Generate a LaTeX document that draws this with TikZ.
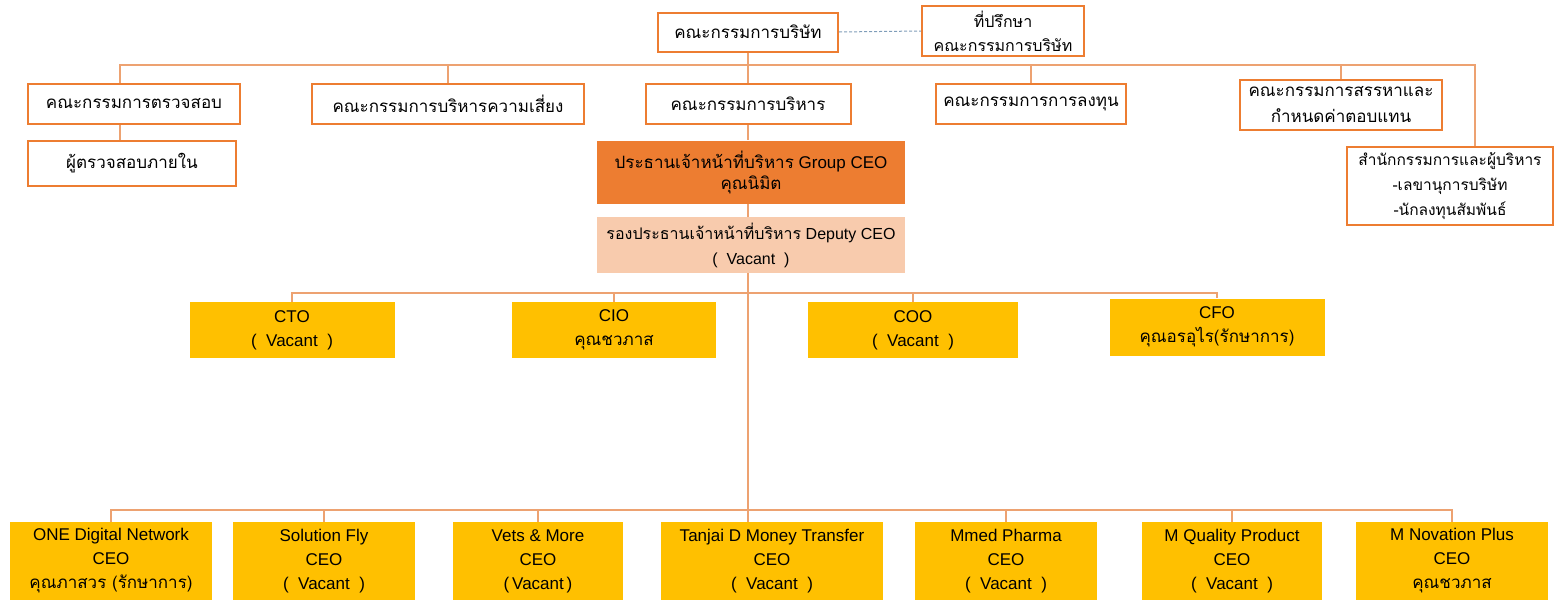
\documentclass[tikz,border=0pt]{standalone}
\usepackage{fontspec}
\setmainfont{Liberation Sans}
\newfontfamily\thaifont[Script=Thai]{Loma}
\definecolor{boxorange}{HTML}{ED7D31}
\definecolor{linktan}{HTML}{EDA271}
\definecolor{ceofill}{HTML}{ED7D31}
\definecolor{deputyfill}{HTML}{F8CBAD}
\definecolor{unitfill}{HTML}{FFC000}
\definecolor{dashblue}{HTML}{7F9DB9}
\tikzstyle{board} = [draw=boxorange, fill=white, line width=2pt, rectangle, align=center, inner sep=0pt, font=\thaifont\fontsize{17}{26}\selectfont]
\tikzstyle{ceobox} = [fill=ceofill, rectangle, align=center, inner sep=0pt, font=\fontsize{17}{21}\selectfont]
\tikzstyle{deputybox} = [fill=deputyfill, rectangle, align=center, inner sep=0pt, font=\fontsize{16}{25}\selectfont]
\tikzstyle{unit} = [fill=unitfill, rectangle, align=center, inner sep=0pt, font=\fontsize{17}{24}\selectfont]
\tikzstyle{link} = [draw=linktan, line width=1.2pt]
\newcommand{\thn}[1]{{\thaifont #1}}

\begin{document}
\begin{tikzpicture}[x=1pt, y=-1pt]
\useasboundingbox (0,0) rectangle (1555,600);
% board level
\node[board, minimum width=180pt, minimum height=39pt] (board) at (748,32) {คณะกรรมการบริษัท};
\node[board, minimum width=162pt, minimum height=50pt, font=\thaifont\fontsize{16}{24}\selectfont] (advisor) at (1003,31) {ที่ปรึกษา\\คณะกรรมการบริษัท};
% committees
\node[board, minimum width=212pt, minimum height=40pt] (audit) at (134,104) {คณะกรรมการตรวจสอบ};
\node[board, minimum width=272pt, minimum height=40pt] (risk) at (448,104) {คณะกรรมการบริหารความเสี่ยง};
\node[board, minimum width=205pt, minimum height=40pt] (exec) at (748,104) {คณะกรรมการบริหาร};
\node[board, minimum width=190pt, minimum height=40pt] (invest) at (1031,104) {คณะกรรมการการลงทุน};
\node[board, minimum width=202pt, minimum height=50pt] (nomin) at (1341,105) {คณะกรรมการสรรหาและ\\กำหนดค่าตอบแทน};
\node[board, minimum width=206pt, minimum height=78pt, font=\thaifont\fontsize{15.5}{25}\selectfont] (office) at (1450,186) {สำนักกรรมการและผู้บริหาร\\-เลขานุการบริษัท\\-นักลงทุนสัมพันธ์};
\node[board, minimum width=208pt, minimum height=45pt] (inaudit) at (132,163) {ผู้ตรวจสอบภายใน};
% executives
\node[ceobox, minimum width=308pt, minimum height=63pt] (ceo) at (751,172) {\thn{ประธานเจ้าหน้าที่บริหาร} Group CEO\\\thn{คุณนิมิต}};
\node[deputybox, minimum width=308pt, minimum height=56pt] (deputy) at (751,245) {\thn{รองประธานเจ้าหน้าที่บริหาร} Deputy CEO\\(\ \ Vacant\ \ )};
\node[unit, minimum width=205pt, minimum height=56pt] (cto) at (292,330) {CTO\\(\ \ Vacant\ \ )};
\node[unit, minimum width=204pt, minimum height=56pt] (cio) at (614,330) {CIO\\\thn{คุณชวภาส}};
\node[unit, minimum width=210pt, minimum height=56pt] (coo) at (913,330) {COO\\(\ \ Vacant\ \ )};
\node[unit, minimum width=215pt, minimum height=57pt] (cfo) at (1217,327) {CFO\\\thn{คุณอรอุไร(รักษาการ)}};
% subsidiaries
\node[unit, minimum width=202pt, minimum height=78pt] (one) at (111,561) {ONE Digital Network\\CEO\\\thn{คุณภาสวร (รักษาการ)}};
\node[unit, minimum width=182pt, minimum height=78pt] (sol) at (324,561) {Solution Fly\\CEO\\(\ \ Vacant\ \ )};
\node[unit, minimum width=170pt, minimum height=78pt] (vets) at (538,561) {Vets \& More\\CEO\\(\,Vacant\,)};
\node[unit, minimum width=222pt, minimum height=78pt] (tanjai) at (772,561) {Tanjai D Money Transfer\\CEO\\(\ \ Vacant\ \ )};
\node[unit, minimum width=182pt, minimum height=78pt] (mmed) at (1006,561) {Mmed Pharma\\CEO\\(\ \ Vacant\ \ )};
\node[unit, minimum width=180pt, minimum height=78pt] (mq) at (1232,561) {M Quality Product\\CEO\\(\ \ Vacant\ \ )};
\node[unit, minimum width=192pt, minimum height=78pt] (mnov) at (1452,561) {M Novation Plus\\CEO\\\thn{คุณชวภาส}};
% connectors
\coordinate (topbar) at (748,65);
\coordinate (cbar) at (748,293);
\coordinate (ubar) at (748,510);
\draw[dashblue, line width=1pt, dash pattern=on 3pt off 2pt] (board.east) -- (advisor.west);
\draw[link] (board.south) -- (exec.north);
\draw[link] ([xshift=-14pt]audit.north) |- (topbar) -| ([xshift=25pt]office.north);
\foreach \n in {risk,invest,nomin}
  \draw[link] (\n.north) -- (\n.north |- topbar);
\draw[link] ([xshift=-14pt]audit.south) -- ([xshift=-14pt]audit.south |- inaudit.north);
\draw[link] (exec.south) -- (exec.south |- ceo.north);
\draw[link] (exec.south |- ceo.south) -- (exec.south |- deputy.north);
\draw[link] (exec.south |- deputy.south) -- (exec.south |- tanjai.north);
\draw[link] (cto.north) |- (cbar) -| (cfo.north);
\foreach \n in {cio,coo}
  \draw[link] (\n.north) -- (\n.north |- cbar);
\draw[link] (one.north) |- (ubar) -| (mnov.north);
\foreach \n in {sol,vets,mmed,mq}
  \draw[link] (\n.north) -- (\n.north |- ubar);
\end{tikzpicture}
\end{document}
